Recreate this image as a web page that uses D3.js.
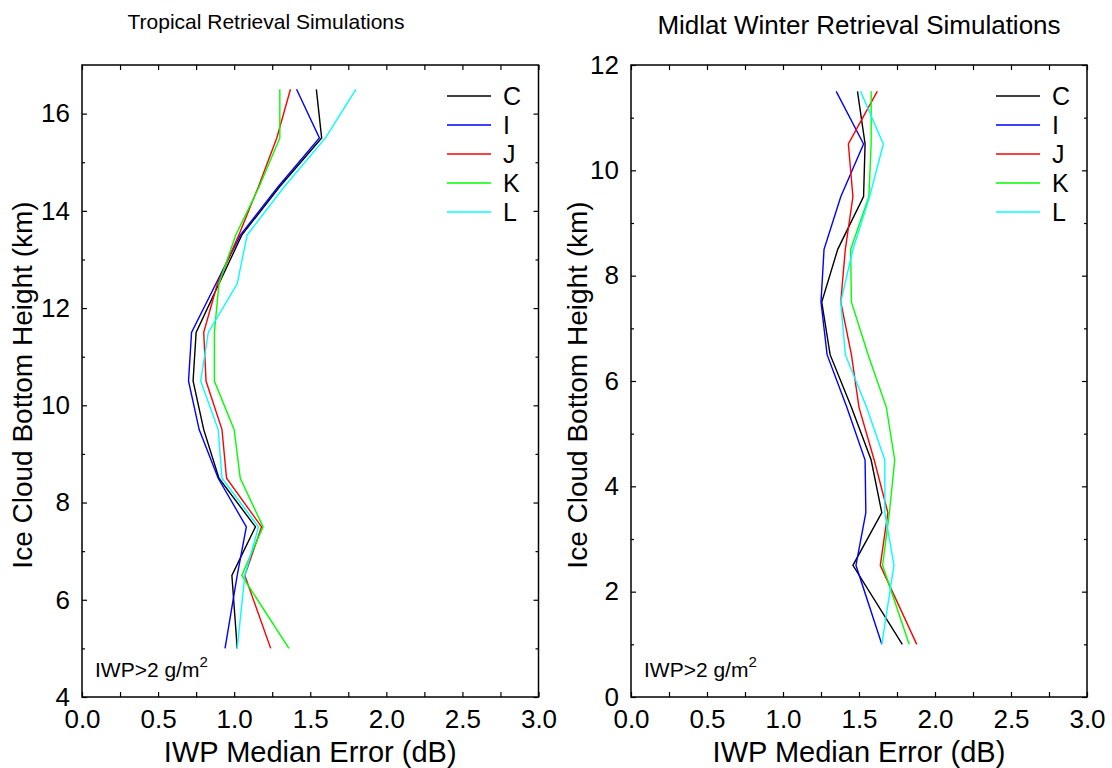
<!DOCTYPE html>
<html>
<head>
<meta charset="utf-8">
<script src="https://cdn.jsdelivr.net/npm/d3@7"></script>
<style>
  body { margin: 0; background: #fff; }
  svg { font-family: "Liberation Sans", Arial, sans-serif; }
</style>
</head>
<body>
<div id="chart"></div>
<script>
// Series names and colours
const seriesNames = ["C", "I", "J", "K", "L"];
const seriesColors = ["#000000", "#0000ff", "#ff0000", "#00ff00", "#00ffff"];

// Tropical panel: ice cloud bottom heights (km) and median errors (dB)
const tropHeights = [5, 6.5, 7.5, 8.5, 9.5, 10.5, 11.5, 12.5, 13.5, 14.5, 15.5, 16.5];
const tropC = [1.02, 0.985, 1.14, 0.90, 0.80, 0.73, 0.75, 0.90, 1.05, 1.30, 1.575, 1.54];
const tropI = [0.94, 1.02, 1.08, 0.895, 0.77, 0.70, 0.72, 0.88, 1.04, 1.29, 1.56, 1.41];
const tropJ = [1.24, 1.07, 1.18, 0.95, 0.92, 0.815, 0.80, 0.89, 1.03, 1.16, 1.28, 1.37];
const tropK = [1.36, 1.05, 1.19, 1.04, 1.00, 0.87, 0.87, 0.90, 1.01, 1.165, 1.30, 1.30];
const tropL = [1.02, 1.07, 1.16, 0.92, 0.895, 0.78, 0.83, 1.02, 1.085, 1.33, 1.60, 1.80];

// Midlat winter panel
const midHeights = [1, 2.5, 3.5, 4.5, 5.5, 6.5, 7.5, 8.5, 9.5, 10.5, 11.5];
const midC = [1.785, 1.46, 1.65, 1.58, 1.45, 1.31, 1.255, 1.36, 1.53, 1.54, 1.49];
const midI = [1.65, 1.48, 1.545, 1.54, 1.42, 1.29, 1.25, 1.27, 1.38, 1.53, 1.35];
const midJ = [1.88, 1.64, 1.69, 1.60, 1.50, 1.45, 1.38, 1.41, 1.46, 1.43, 1.62];
const midK = [1.83, 1.655, 1.70, 1.735, 1.68, 1.56, 1.45, 1.445, 1.565, 1.58, 1.58];
const midL = [1.65, 1.73, 1.67, 1.67, 1.55, 1.41, 1.38, 1.46, 1.57, 1.66, 1.51];

// Tick labels
const xTickLabels = [0, 0.5, 1.0, 1.5, 2.0, 2.5, 3.0];
const tropYTickLabels = [4, 6, 8, 10, 12, 14, 16];
const midYTickLabels = [0, 2, 4, 6, 8, 10, 12];

const svg = d3.select("#chart").append("svg")
    .attr("width", 1112)
    .attr("height", 768);

function drawPanel(opt) {
  const x = d3.scaleLinear().domain([0, 3]).range([opt.left, opt.right]);
  const y = d3.scaleLinear().domain(opt.yDomain).range([opt.bottom, opt.top]);
  const g = svg.append("g");

  // Minor x ticks every 0.25, bottom and top, pointing inward
  const xMinor = d3.range(0, 3.0001, 0.25);
  g.append("g").attr("transform", `translate(0,${opt.bottom})`)
    .call(d3.axisBottom(x).tickValues(xMinor).tickSize(-5).tickFormat(""))
    .call(a => a.select(".domain").remove());
  g.append("g").attr("transform", `translate(0,${opt.top})`)
    .call(d3.axisTop(x).tickValues(xMinor).tickSize(-5).tickFormat(""))
    .call(a => a.select(".domain").remove());

  // Y ticks: major every 2, minor every 1, both sides
  const yMajor = opt.yLabels;
  const yMinor = d3.range(opt.yDomain[0] + 1, opt.yDomain[1], 2);
  [[d3.axisLeft, opt.left], [d3.axisRight, opt.right]].forEach(([ax, pos]) => {
    g.append("g").attr("transform", `translate(${pos},0)`)
      .call(ax(y).tickValues(yMajor).tickSize(-5).tickFormat(""))
      .call(a => a.select(".domain").remove());
    g.append("g").attr("transform", `translate(${pos},0)`)
      .call(ax(y).tickValues(yMinor).tickSize(-3).tickFormat(""))
      .call(a => a.select(".domain").remove());
  });
  g.selectAll(".tick line").attr("stroke", "#000").attr("stroke-width", 1.2);

  // Tick labels
  g.append("g").attr("transform", `translate(0,${opt.bottom})`)
    .call(d3.axisBottom(x).tickValues(xTickLabels).tickSize(0).tickPadding(13).tickFormat(d3.format(".1f")))
    .call(a => a.select(".domain").remove())
    .selectAll("text").attr("font-size", 26).attr("fill", "#000")
    .attr("font-family", "Liberation Sans, Arial, sans-serif");
  g.append("g").attr("transform", `translate(${opt.left},0)`)
    .call(d3.axisLeft(y).tickValues(opt.yLabels).tickSize(0).tickPadding(12))
    .call(a => a.select(".domain").remove())
    .selectAll("text").attr("font-size", 26).attr("fill", "#000")
    .attr("font-family", "Liberation Sans, Arial, sans-serif");

  // Frame
  g.append("rect")
    .attr("x", opt.left).attr("y", opt.top)
    .attr("width", opt.right - opt.left).attr("height", opt.bottom - opt.top)
    .attr("fill", "none").attr("stroke", "#000").attr("stroke-width", 1.5);

  // Lines
  const line = d3.line().x(d => x(d[0])).y(d => y(d[1]));
  opt.series.forEach((vals, i) => {
    const pts = vals.map((v, j) => [v, opt.heights[j]]);
    g.append("path")
      .datum(pts)
      .attr("fill", "none")
      .attr("stroke", seriesColors[i])
      .attr("stroke-width", 1.4)
      .attr("d", line);
  });

  // Legend
  seriesNames.forEach((name, i) => {
    const ly = opt.legendY + i * 29;
    g.append("line")
      .attr("x1", opt.legendX).attr("x2", opt.legendX + 44)
      .attr("y1", ly).attr("y2", ly)
      .attr("stroke", seriesColors[i]).attr("stroke-width", 1.4);
    g.append("text")
      .attr("x", opt.legendX + 56).attr("y", ly + 9)
      .attr("font-size", 25).text(name);
  });

  // Annotation
  const note = g.append("text")
    .attr("x", opt.left + 13).attr("y", opt.bottom - 20)
    .attr("font-size", 21);
  note.append("tspan").text("IWP>2 g/m");
  note.append("tspan").attr("dy", -10).attr("font-size", 15).text("2");

  // Title
  g.append("text")
    .attr("x", opt.titleX).attr("y", opt.titleY)
    .attr("text-anchor", "middle").attr("font-size", opt.titleSize)
    .text(opt.title);

  // Axis labels
  g.append("text")
    .attr("x", (opt.left + opt.right) / 2).attr("y", 762)
    .attr("text-anchor", "middle").attr("font-size", 29)
    .text("IWP Median Error (dB)");
  g.append("text")
    .attr("transform", `translate(${opt.left - opt.yLabelOffset},${(opt.top + opt.bottom) / 2 + 4}) rotate(-90)`)
    .attr("text-anchor", "middle").attr("font-size", 28)
    .text("Ice Cloud Bottom Height (km)");
}

drawPanel({
  left: 82, right: 538.5, top: 65, bottom: 697,
  yDomain: [4, 17], yLabels: tropYTickLabels,
  heights: tropHeights, series: [tropC, tropI, tropJ, tropK, tropL],
  legendX: 447, legendY: 96,
  title: "Tropical Retrieval Simulations", titleX: 266, titleY: 29, titleSize: 21,
  yLabelOffset: 50
});

drawPanel({
  left: 631, right: 1087, top: 65, bottom: 697,
  yDomain: [0, 12], yLabels: midYTickLabels,
  heights: midHeights, series: [midC, midI, midJ, midK, midL],
  legendX: 996, legendY: 96,
  title: "Midlat Winter Retrieval Simulations", titleX: 859, titleY: 34, titleSize: 26,
  yLabelOffset: 44
});
</script>
</body>
</html>
